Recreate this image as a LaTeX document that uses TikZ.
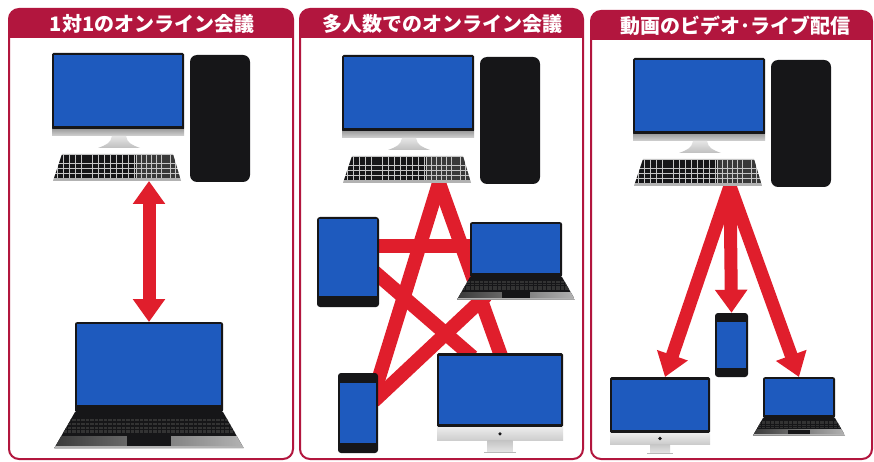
\documentclass[tikz,border=0pt]{standalone}
\usepackage{xcolor}
\usepackage{fontspec}
\usepackage{tikz}
\usetikzlibrary{arrows.meta,backgrounds}
\newfontfamily\jpfont{Noto Sans CJK JP}
\definecolor{framered}{RGB}{178,22,62}
\definecolor{linkred}{RGB}{224,30,44}
\definecolor{scrblue}{RGB}{30,90,190}
\definecolor{devblack}{RGB}{22,22,24}

\begin{document}
\begin{tikzpicture}[x=1pt,y=-1pt,>={Triangle[width=31pt,length=23pt]},
  frame/.style={draw=framered,line width=2pt,rounded corners=10pt},
  title/.style={font=\jpfont\bfseries\fontsize{20}{20}\selectfont,text=white,inner sep=0pt},
  scr/.style 2 args={fill=devblack,inner sep=0pt,rounded corners=2pt,
    path picture={\fill[scrblue,sharp corners] ([shift={(1.8pt,-#1)}]path picture bounding box.north west) rectangle ([shift={(-1.8pt,#2)}]path picture bounding box.south east);}},
  star/.style={draw=linkred,line width=14pt,shorten <=-6pt,shorten >=-6pt},
  flow/.style={draw=linkred,line width=13pt,->},
  duplex/.style={draw=linkred,line width=13pt,<->},
  pics/desktop/.style={code={
    \fill[devblack,rounded corners=1.5pt] (0,0) rectangle (132,77);
    \fill[scrblue] (2,2) rectangle (130,73.5);
    \shade[top color=gray!70,bottom color=gray!35] (0,77) rectangle (132,83);
    \shade[top color=gray!20,bottom color=gray!50] (60,83) -- (74,83) .. controls (75,90) and (80,92) .. (88,95) -- (46,95) .. controls (54,92) and (59,90) .. (60,83) -- cycle;
    \begin{scope}
      \clip (10,101) -- (121,101) -- (129,128) -- (1,128) -- cycle;
      \fill[gray!45] (0,100) rectangle (130,129);
      \foreach \r in {103.6,108.4,...,123}
        \draw[devblack,line width=4.1pt,dash pattern=on 5pt off 0.9pt] (0,\r) -- (84,\r);
      \foreach \r in {103.6,108.4,...,123}
        \draw[gray!45!black,line width=4.1pt,dash pattern=on 4pt off 0.9pt] (85,\r) -- (130,\r);
      \fill[gray!60] (0,125.5) rectangle (130,129);
    \end{scope}
    \fill[devblack,rounded corners=7pt] (138,2) rectangle (198,129);
    \coordinate (-link) at (97,128);
  }},
  pics/laptop/.style 2 args={code={
    \pgfmathsetmacro\lapw{#1/2}
    \pgfmathsetmacro\laph{#2}
    \pgfmathsetmacro\lapx{0.14*#1}
    \pgfmathsetmacro\lapd{0.245*#1}
    \pgfmathsetmacro\lapb{0.05*#1}
    \node[scr={1.5pt}{\lapb pt},minimum width=#1,minimum height=#2,anchor=north] (-scr) at (0,0) {};
    \begin{scope}
      \clip (-\lapw,\laph) -- (\lapw,\laph) -- (\lapw+\lapx,\laph+\lapd) -- (-\lapw-\lapx,\laph+\lapd) -- cycle;
      \fill[devblack] (-\lapw-\lapx,\laph) rectangle (\lapw+\lapx,\laph+\lapd);
      \foreach \k in {0,1,2,3}
        \draw[gray!40!black,line width=0.018*#1,dash pattern=on 3.5pt off 1pt] (-\lapw-\lapx,\laph+0.055*#1+\k*0.026*#1) -- (\lapw+\lapx,\laph+0.055*#1+\k*0.026*#1);
      \shade[left color=gray!45!black,right color=gray!60] (-\lapw-\lapx,\laph+0.165*#1) rectangle (\lapw+\lapx,\laph+\lapd);
      \fill[devblack] (-0.15*#1,\laph+0.165*#1) rectangle (0.15*#1,\laph+0.228*#1);
      \fill[gray!60] (-\lapw-\lapx,\laph+0.228*#1) rectangle (\lapw+\lapx,\laph+\lapd);
    \end{scope}
    \coordinate (-base) at (0,\laph+\lapd);
  }},
  pics/imac/.style 2 args={code={
    \pgfmathsetmacro\macw{#1/2}
    \pgfmathsetmacro\mach{#2}
    \node[scr={3pt}{3pt},rounded corners=1.5pt,minimum width=#1,minimum height=#2,anchor=north] (-scr) at (0,0) {};
    \shade[top color=gray!15,bottom color=gray!40] (-\macw,\mach) rectangle (\macw,\mach+0.11*#1);
    \fill[devblack] (0,\mach+0.055*#1) circle (1.8);
    \shade[top color=gray!45,bottom color=gray!20] (-0.1*#1,\mach+0.11*#1) rectangle (0.1*#1,\mach+0.2*#1);
    \fill[gray!55] (-0.13*#1,\mach+0.195*#1) rectangle (0.13*#1,\mach+0.21*#1);
  }}]
\useasboundingbox (0,0) rectangle (874,462);
\begin{pgfonlayer}{background}
  \fill[white] (0,0) rectangle (874,462);
\end{pgfonlayer}

\begin{scope}
  \clip[rounded corners=10pt] (9,9) rectangle (293,459);
  \fill[framered] (9,9) rectangle (293,38);
\end{scope}
\draw[frame] (9,9) rectangle (293,459);
\node[title] (h1) at (152,23.5) {1対1のオンライン会議};

\begin{scope}
  \clip[rounded corners=10pt] (300,9) rectangle (583,459);
  \fill[framered] (300,9) rectangle (583,38);
\end{scope}
\draw[frame] (300,9) rectangle (583,459);
\node[title] (h2) at (442.5,23.5) {多人数でのオンライン会議};

\begin{scope}
  \clip[rounded corners=10pt] (591,11) rectangle (872,459);
  \fill[framered] (591,11) rectangle (872,40);
\end{scope}
\draw[frame] (591,11) rectangle (872,459);
\node[title] (h3) at (735,25.5) {動画のビデオ･ライブ配信};

\pic (d1) at (52,53) {desktop};
\pic (l1) at (149,322) {laptop={148}{90}};

\pic (d2) at (342,55) {desktop};
\node[scr={2pt}{11pt},rounded corners=3pt,minimum width=62,minimum height=90] (t2) at (348,262) {};
\pic (l2) at (516,222) {laptop={92}{55}};
\node[scr={10pt}{10pt},rounded corners=3pt,minimum width=40,minimum height=80] (p2) at (358,413) {};
\pic (m2) at (500,353) {imac={126}{74}};

\pic (d3) at (633,58) {desktop};
\node[scr={9pt}{9pt},rounded corners=3pt,minimum width=33,minimum height=64] (p3) at (731.5,345) {};
\pic (m3) at (660,377) {imac={100}{56}};
\pic (l3) at (799,377) {laptop={72}{41}};

\begin{pgfonlayer}{background}
  \draw[duplex] (d1-link) -- (l1-scr.north);
  \draw[star] (d2-link) -- ([xshift=10pt]p2.center);
  \draw[star] (d2-link) -- (m2-scr.north);
  \draw[star] ([yshift=16pt]t2.east) -- ([yshift=16pt]t2.east -| l2-scr.west);
  \draw[star] ([yshift=-14pt]t2.east) -- ([xshift=-32pt]m2-scr.north);
  \draw[star] ([yshift=16pt]p2.east) -- ([xshift=-34pt]l2-base);
  \draw[flow,shorten <=-10pt] (d3-link) -- ([xshift=5pt]m3-scr.north);
  \draw[flow,shorten <=-10pt] (d3-link) -- (p3.north);
  \draw[flow,shorten <=-10pt] (d3-link) -- (l3-scr.north);
\end{pgfonlayer}
\end{tikzpicture}
\end{document}
